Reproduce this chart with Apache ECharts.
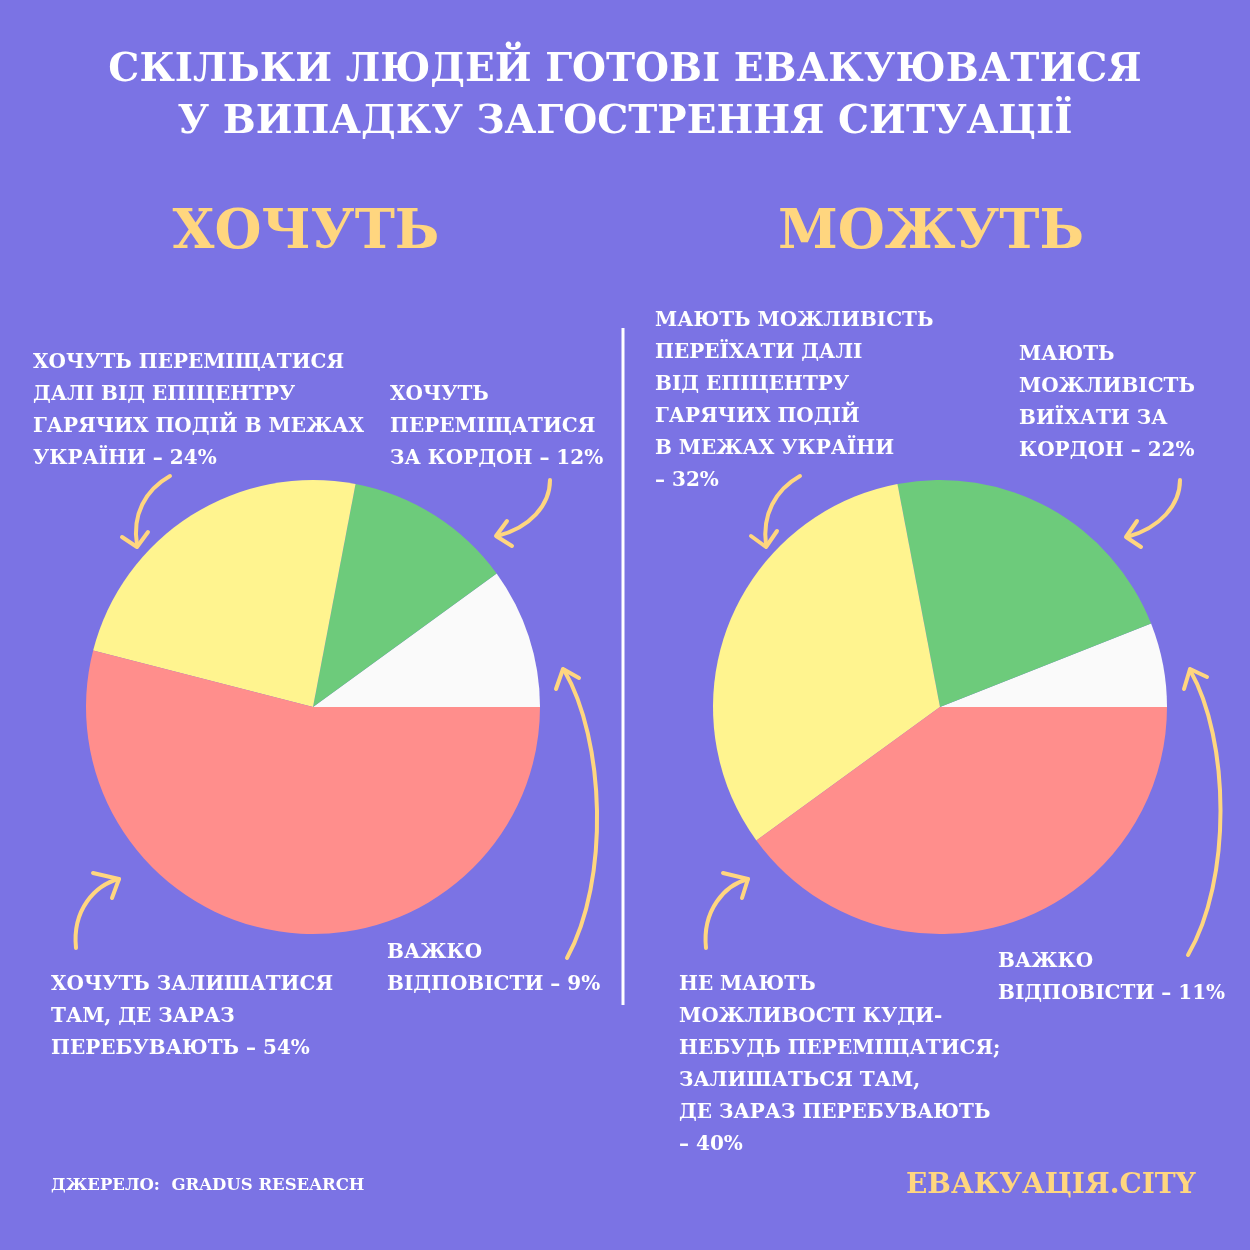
<!DOCTYPE html>
<html><head><meta charset="utf-8">
<script src="https://cdn.jsdelivr.net/npm/echarts@6/dist/echarts.min.js"></script>
<style>html,body{margin:0;padding:0;background:#7B73E4;}#c{width:1250px;height:1250px;}</style>
</head><body><div id="c"></div>
<script>
// ---- data ----
const titleLines = ['СКІЛЬКИ ЛЮДЕЙ ГОТОВІ ЕВАКУЮВАТИСЯ', 'У ВИПАДКУ ЗАГОСТРЕННЯ СИТУАЦІЇ'];
const panelTitles = ['ХОЧУТЬ', 'МОЖУТЬ'];
const categories = ['Важко відповісти', 'За кордон', 'В межах України', 'Залишатися'];
const wantValues = [10, 12, 24, 54];  // slice sizes as drawn
const canValues = [6, 22, 32, 40];    // slice sizes as drawn
const sliceColors = ['#FAFAFA', '#6DCB7B', '#FFF48F', '#FF8E8C'];
const wantLabels = [
  'ВАЖКО\nВІДПОВІСТИ – 9%',
  'ХОЧУТЬ\nПЕРЕМІЩАТИСЯ\nЗА КОРДОН – 12%',
  'ХОЧУТЬ ПЕРЕМІЩАТИСЯ\nДАЛІ ВІД ЕПІЦЕНТРУ\nГАРЯЧИХ ПОДІЙ В МЕЖАХ\nУКРАЇНИ – 24%',
  'ХОЧУТЬ ЗАЛИШАТИСЯ\nТАМ, ДЕ ЗАРАЗ\nПЕРЕБУВАЮТЬ – 54%'
];
const canLabels = [
  'ВАЖКО\nВІДПОВІСТИ – 11%',
  'МАЮТЬ\nМОЖЛИВІСТЬ\nВИЇХАТИ ЗА\nКОРДОН – 22%',
  'МАЮТЬ МОЖЛИВІСТЬ\nПЕРЕЇХАТИ ДАЛІ\nВІД ЕПІЦЕНТРУ\nГАРЯЧИХ ПОДІЙ\nВ МЕЖАХ УКРАЇНИ\n– 32%',
  'НЕ МАЮТЬ\nМОЖЛИВОСТІ КУДИ-\nНЕБУДЬ ПЕРЕМІЩАТИСЯ;\nЗАЛИШАТЬСЯ ТАМ,\nДЕ ЗАРАЗ ПЕРЕБУВАЮТЬ\n– 40%'
];
const sourceText = 'ДЖЕРЕЛО:  GRADUS RESEARCH';
const brandText = 'ЕВАКУАЦІЯ.CITY';

// ---- styles ----
const BG = '#7B73E4', YEL = '#FFD67F', WHITE = '#FFFFFF';
const FF = '"DejaVu Serif", serif';
const labelFont = 'bold 20px ' + FF;

function pieSeries(values, cx) {
  return {
    type: 'pie', center: [cx, 707], radius: [0, 227],
    startAngle: 0, clockwise: false, silent: true,
    label: {show: false}, labelLine: {show: false},
    itemStyle: {borderWidth: 0},
    data: values.map((v, i) => ({name: categories[i], value: v, itemStyle: {color: sliceColors[i]}}))
  };
}

function txt(text, x, y, font, fill, lh, align) {
  return {type: 'text', x: x, y: y, silent: true,
    style: {text: text, font: font, fill: fill, lineHeight: lh || 32,
      align: align || 'left', verticalAlign: 'top'}};
}
function arrow(pts, head) {
  const ls = {stroke: YEL, lineWidth: 4, lineCap: 'round', lineJoin: 'round', fill: null};
  return [
    {type: 'bezierCurve', silent: true, shape: {x1: pts[0][0], y1: pts[0][1], cpx1: pts[1][0], cpy1: pts[1][1], cpx2: pts[2][0], cpy2: pts[2][1], x2: pts[3][0], y2: pts[3][1]}, style: ls},
    {type: 'polyline', silent: true, shape: {points: head}, style: ls}
  ];
}

const graphics = [
  txt(titleLines[0], 625, 45, 'bold 39px ' + FF, WHITE, 52, 'center'),
  txt(titleLines[1], 625, 97, 'bold 39px ' + FF, WHITE, 52, 'center'),
  txt(panelTitles[0], 306, 196, 'bold 54px ' + FF, YEL, 76, 'center'),
  txt(panelTitles[1], 931, 196, 'bold 54px ' + FF, YEL, 76, 'center'),
  txt(wantLabels[2], 33, 347, labelFont, WHITE),
  txt(wantLabels[1], 390, 379, labelFont, WHITE),
  txt(wantLabels[3], 51, 969, labelFont, WHITE),
  txt(wantLabels[0], 387, 937, labelFont, WHITE),
  txt(canLabels[2], 655, 305, labelFont, WHITE),
  txt(canLabels[1], 1019, 339, labelFont, WHITE),
  txt(canLabels[3], 679, 969, labelFont, WHITE),
  txt(canLabels[0], 998, 946, labelFont, WHITE),
  txt(sourceText, 51, 1175, 'bold 16.5px ' + FF, WHITE, 22),
  txt(brandText, 906, 1166, 'bold 28px ' + FF, YEL, 40),
  {type: 'line', silent: true, shape: {x1: 623, y1: 328, x2: 623, y2: 1005}, style: {stroke: WHITE, lineWidth: 3}}
].concat(
  arrow([[170, 476], [145, 490], [132, 515], [137, 545]], [[122, 537], [137, 547], [148, 532]]),
  arrow([[550, 480], [550, 505], [530, 528], [497, 536]], [[507, 521], [496, 536], [512, 546]]),
  arrow([[567, 958], [610, 880], [605, 740], [564, 670]], [[556, 689], [563, 669], [579, 678]]),
  arrow([[76, 948], [72, 910], [95, 885], [119, 879]], [[93, 873], [119, 879], [112, 898]]),
  arrow([[800, 476], [775, 490], [762, 515], [766, 545]], [[751, 536], [766, 547], [777, 531]]),
  arrow([[1180, 480], [1180, 505], [1160, 528], [1127, 537]], [[1137, 521], [1126, 537], [1141, 547]]),
  arrow([[1188, 955], [1232, 880], [1230, 740], [1190, 670]], [[1184, 689], [1190, 669], [1207, 677]]),
  arrow([[706, 948], [702, 910], [725, 885], [748, 879]], [[723, 873], [748, 879], [742, 898]])
);

const chart = echarts.init(document.getElementById('c'), null, {renderer: 'canvas'});
chart.setOption({
  backgroundColor: BG,
  animation: false,
  series: [pieSeries(wantValues, 313), pieSeries(canValues, 940)],
  graphic: graphics
});
</script></body></html>
